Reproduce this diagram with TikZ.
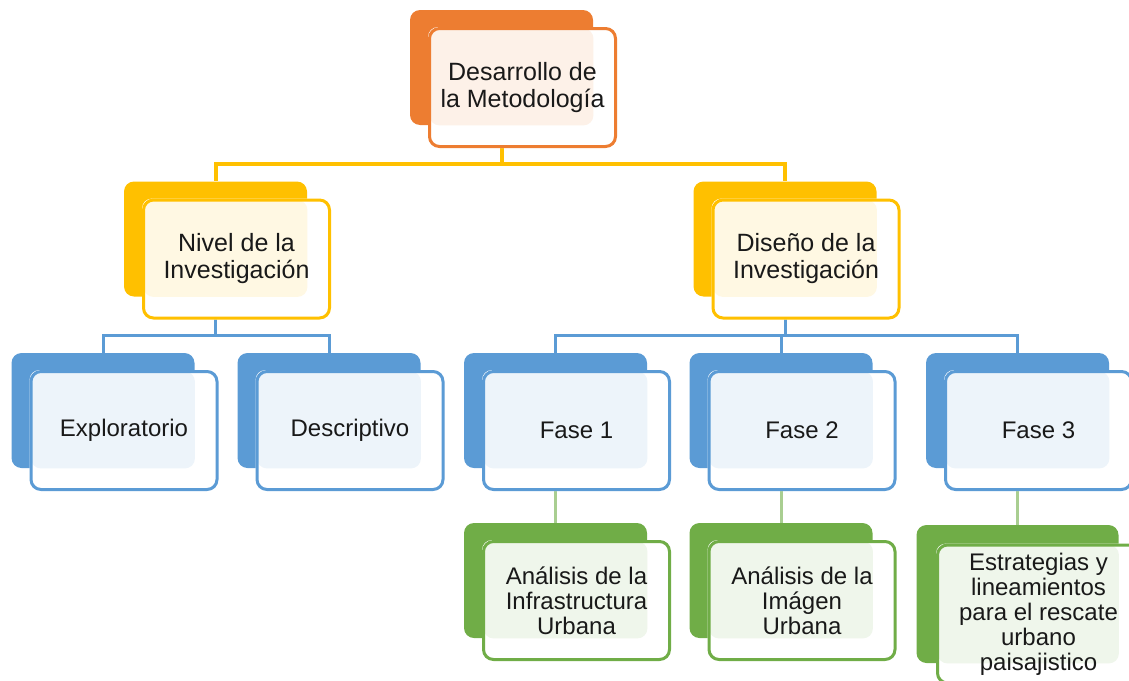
\documentclass[tikz,border=0pt]{standalone}
\usepackage{fontspec}
\setmainfont{Liberation Sans}
\definecolor{naranja}{HTML}{ED7D31}
\definecolor{amarillo}{HTML}{FFC000}
\definecolor{azul}{HTML}{5B9BD5}
\definecolor{verde}{HTML}{70AD47}

\pgfdeclarelayer{links}
\pgfdeclarelayer{bg}
\pgfsetlayers{links,bg,main}

\tikzset{
  backbox/.style={fill=#1, rounded corners=5pt, minimum width=91.5pt, minimum height=57.5pt, inner sep=0pt},
  frontbox/.style={draw=#1, line width=1.5pt, rounded corners=5pt, minimum width=93pt, minimum height=59pt,
    inner sep=2pt, align=center, text=black!90, font=\fontsize{12}{12.5}\selectfont},
  big/.style={font=\fontsize{12.5}{13.5}\selectfont},
  link/.style={draw=#1, line width=1.5pt},
}

% #1 extra keys, #2 name, #3 colour, #4 centre of back box, #5 text
\newcommand{\panel}[5][]{%
  \begin{pgfonlayer}{bg}
    \node[backbox=#3, #1] (#2-b) at (#4) {};
  \end{pgfonlayer}
  \node[frontbox=#3, #1] (#2) at ([shift={(21,20)}]#2-b.center) {#5};
  \begin{pgfonlayer}{bg}
    \fill[white, rounded corners=5pt] (#2.north west) rectangle (#2.south east);
    \fill[#3!11, rounded corners=5pt] ([shift={(1.5,1.5)}]#2.north west) rectangle (#2-b.south east);
  \end{pgfonlayer}
}

\begin{document}
\begin{tikzpicture}[x=0.5pt, y=-0.5pt]
  \useasboundingbox (0,0) rectangle (1129,680);

  % top
  \panel[big]{dm}{naranja}{501.5,67.5}{Desarrollo de\\la Metodología}

  % second level
  \panel[big]{nivel}{amarillo}{215.5,239}{Nivel de la\\Investigación}
  \panel[big]{diseno}{amarillo}{785,239}{Diseño de la\\Investigación}

  % third level
  \panel{expl}{azul}{103,410.5}{Exploratorio}
  \panel{desc}{azul}{329,410.5}{Descriptivo}
  \panel{f1}{azul}{555.5,410.5}{Fase 1}
  \panel{f2}{azul}{781,410.5}{Fase 2}
  \panel{f3}{azul}{1017.5,410.5}{Fase 3}

  % fourth level
  \panel{g1}{verde}{555.5,580.5}{Análisis de la\\Infrastructura\\Urbana}
  \panel{g2}{verde}{781,580.5}{Análisis de la\\Imágen\\Urbana}
  \panel[minimum width=101pt, minimum height=69pt]{g3}{verde}{1017.5,594}{Estrategias y\\lineamientos\\para el rescate\\urbano\\paisajistico}

  \begin{pgfonlayer}{links}
    \draw[link=amarillo, line width=2pt] (dm-b.south) -- ++(0,39) -| (nivel-b.north);
    \draw[link=amarillo, line width=2pt] (dm-b.south) -- ++(0,39) -| (diseno-b.north);
    \foreach \c in {expl,desc}
      \draw[link=azul] (nivel-b.south) -- ++(0,39) -| (\c-b.north);
    \foreach \c in {f1,f2,f3}
      \draw[link=azul] (diseno-b.south) -- ++(0,39) -| (\c-b.north);
    \foreach \c in {1,2,3}
      \draw[link=verde!60] (f\c-b.south) -- (g\c-b.north);
  \end{pgfonlayer}
\end{tikzpicture}
\end{document}
